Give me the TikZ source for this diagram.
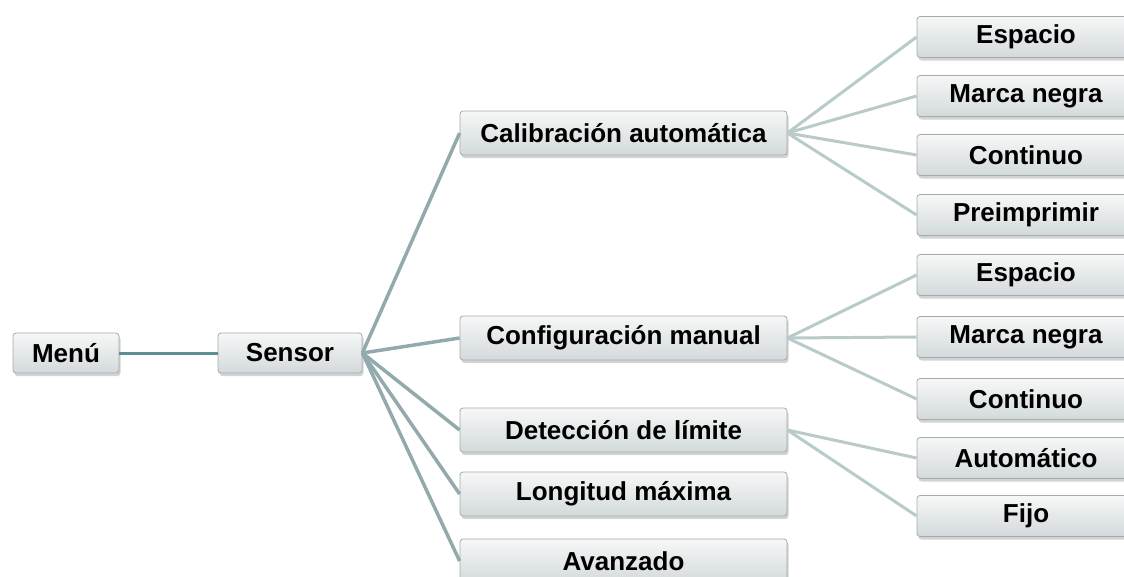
\documentclass[tikz,border=0pt]{standalone}
\usepackage{fontspec}
\setmainfont{Liberation Sans}
\usetikzlibrary{shadows}
\definecolor{boxborder}{HTML}{A3ABAD}
\definecolor{boxtop}{HTML}{F6F7F7}
\definecolor{boxbot}{HTML}{D3D9DB}
\definecolor{lineA}{HTML}{5E8E95}
\definecolor{lineB}{HTML}{93AAAD}
\definecolor{lineC}{HTML}{B9CACB}
\tikzset{
  menubox/.style={draw=boxborder, line width=0.8pt, rounded corners=3pt,
    top color=boxtop, bottom color=boxbot,
    drop shadow={opacity=0.35, shadow xshift=1.5pt, shadow yshift=-3pt},
    inner sep=0pt, font=\fontsize{26}{30}\selectfont\bfseries, text=black},
  leafbox/.style={menubox, minimum width=218pt, minimum height=41pt},
  midbox/.style={menubox, minimum width=327pt, minimum height=44pt},
  linkA/.style={draw=lineA, line width=3pt},
  linkB/.style={draw=lineB, line width=3.5pt},
  linkC/.style={draw=lineC, line width=3pt},
}
\begin{document}
\begin{tikzpicture}[x=1pt, y=-1pt]
\useasboundingbox (0,0) rectangle (1124,576);
% nodes
\node[menubox, minimum width=106pt, minimum height=40pt] (menu) at (66,353) {Menú};
\node[menubox, minimum width=144pt, minimum height=40pt] (sensor) at (290,353) {Sensor};
\node[midbox] (cal) at (623.5,133) {Calibración automática};
\node[midbox] (conf) at (623.5,338) {Configuración manual};
\node[midbox] (det) at (623.5,430) {Detección de límite};
\node[midbox] (lon) at (623.5,494) {Longitud máxima};
\node[midbox] (ava) at (623.5,561) {Avanzado};
\node[leafbox] (c1) at (1026,37) {Espacio};
\node[leafbox] (c2) at (1026,96) {Marca negra};
\node[leafbox] (c3) at (1026,155) {Continuo};
\node[leafbox] (c4) at (1026,215) {Preimprimir};
\node[leafbox] (m1) at (1026,275) {Espacio};
\node[leafbox] (m2) at (1026,337) {Marca negra};
\node[leafbox] (m3) at (1026,399) {Continuo};
\node[leafbox] (d1) at (1026,458) {Automático};
\node[leafbox] (d2) at (1026,516) {Fijo};
% connectors
\draw[linkA] (menu.east) -- (sensor.west);
\foreach \t in {cal,conf,det,lon,ava} \draw[linkB] (sensor.east) -- (\t.west);
\foreach \t in {c1,c2,c3,c4} \draw[linkC] (cal.east) -- (\t.west);
\foreach \t in {m1,m2,m3} \draw[linkC] (conf.east) -- (\t.west);
\foreach \t in {d1,d2} \draw[linkC] (det.east) -- (\t.west);
\end{tikzpicture}
\end{document}
